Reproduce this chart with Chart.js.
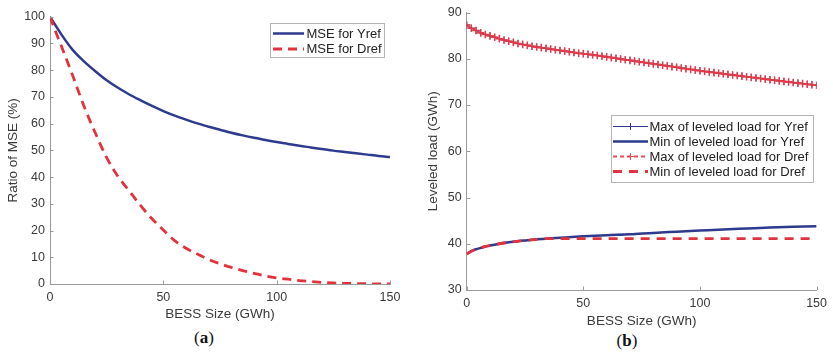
<!DOCTYPE html>
<html>
<head>
<meta charset="utf-8">
<script src="https://cdn.jsdelivr.net/npm/chart.js@4.4.1/dist/chart.umd.min.js"></script>
<style>
  html, body { margin: 0; padding: 0; background: #fff; width: 833px; height: 354px; overflow: hidden; }
  #wrapA { position: absolute; left: 0; top: 0; width: 420px; height: 322px; }
  #wrapB { position: absolute; left: 420px; top: 0; width: 413px; height: 329px; }
  .cap { position: absolute; font-family: 'Liberation Serif', 'DejaVu Serif', serif; font-size: 17px; color: #111; transform: translate(-50%, -50%); line-height: 1; }
</style>
</head>
<body>
<div id="wrapA"><canvas id="chartA" width="420" height="322"></canvas></div>
<div id="wrapB"><canvas id="chartB" width="413" height="329"></canvas></div>
<div class="cap" style="left:204px; top:337px;">(<b>a</b>)</div>
<div class="cap" style="left:627px; top:340px;">(<b>b</b>)</div>
<script>
// ---------- Panel (a) data ----------
const bessA = [0,5,10,15,20,25,30,35,40,45,50,55,60,65,70,75,80,85,90,95,100,105,110,115,120,125,130,135,140,145,150];
const mseYref = [100,93.4,87.6,83.3,79.6,76.2,73.4,70.9,68.7,66.6,64.7,63.0,61.5,60.1,58.8,57.7,56.6,55.6,54.7,53.9,53.1,52.4,51.7,51.1,50.5,49.9,49.4,48.9,48.4,47.9,47.5];
const bessDref = [0,2,5,10,15,20,25,30,35,40,45,50,55,60,65,70,75,80,85,90,95,100,105,110,115,120,125,130,135,140,145,150];
const mseDref = [100,95.5,89,78,66.5,56.5,47.3,40.2,34.8,29.3,24.4,20.2,16.2,13.4,11.2,9.2,7.6,6.2,5.0,4.0,3.0,2.3,1.8,1.3,0.9,0.6,0.4,0.25,0.15,0.1,0.05,0.0];
const ticksA_x = [0,50,100,150];

// ---------- Panel (b) data ----------
const bessMax = [0,2,4,6,8,10,12,14,16,18,20,22,24,26,28,30,32,34,36,38,40,42,44,46,48,50,52,54,56,58,60,62,64,66,68,70,72,74,76,78,80,82,84,86,88,90,92,94,96,98,100,102,104,106,108,110,112,114,116,118,120,122,124,126,128,130,132,134,136,138,140,142,144,146,148,150];
const maxLoadYref = [87.3,86.6,86.1,85.6,85.25,84.95,84.65,84.35,84.05,83.8,83.55,83.3,83.1,82.9,82.7,82.55,82.4,82.25,82.1,81.95,81.8,81.65,81.5,81.35,81.2,81.1,80.95,80.85,80.7,80.55,80.4,80.25,80.1,79.95,79.8,79.65,79.5,79.35,79.2,79.05,78.9,78.75,78.6,78.45,78.3,78.15,78.0,77.85,77.7,77.55,77.4,77.27,77.14,77.01,76.88,76.75,76.62,76.5,76.37,76.24,76.11,75.98,75.85,75.72,75.6,75.47,75.35,75.22,75.1,74.98,74.86,74.74,74.62,74.5,74.38,74.26];
const maxLoadDref = [87.3,86.6,86.1,85.6,85.25,84.95,84.65,84.35,84.05,83.8,83.55,83.3,83.1,82.9,82.7,82.55,82.4,82.25,82.1,81.95,81.8,81.65,81.5,81.35,81.2,81.1,80.95,80.85,80.7,80.55,80.4,80.25,80.1,79.95,79.8,79.65,79.5,79.35,79.2,79.05,78.9,78.75,78.6,78.45,78.3,78.15,78.0,77.85,77.7,77.55,77.4,77.27,77.14,77.01,76.88,76.75,76.62,76.5,76.37,76.24,76.11,75.98,75.85,75.72,75.6,75.47,75.35,75.22,75.1,74.98,74.86,74.74,74.62,74.5,74.38,74.26];
const bessMinY = [0,2,4,6,8,10,14,18,22,26,30,35,40,45,50,60,70,80,90,100,110,120,130,140,150];
const minLoadYref = [37.8,38.4,38.8,39.1,39.4,39.6,40.0,40.3,40.55,40.75,40.95,41.15,41.3,41.45,41.6,41.85,42.05,42.35,42.6,42.85,43.1,43.3,43.5,43.65,43.8];
const bessMinD = [0,2,4,6,8,10,14,18,22,26,30,34,40,50,60,70,80,90,100,110,120,130,140,150];
const minLoadDref = [37.8,38.4,38.8,39.1,39.4,39.6,40.0,40.3,40.55,40.75,40.95,41.1,41.1,41.1,41.1,41.1,41.1,41.1,41.1,41.1,41.1,41.1,41.1,41.1];
const ticksB_x = [0,50,100,150];

// ---------- Styles ----------
const FONT = "'Liberation Sans', Arial, Helvetica, sans-serif";
const BLUE = '#2d3a8e';
const RED = '#e4323c';
const RED_MARK = 'rgba(233,58,68,0.9)';
const AXIS = '#9a9a9a';
const TEXT = '#3a3a3a';

const pts = (xs, ys) => xs.map((x, i) => ({ x: x, y: ys[i] }));

// Boxed legend drawn inside the plot area (MATLAB style)
const boxLegend = {
  id: 'boxLegend',
  afterDraw(chart, args, o) {
    const ctx = chart.ctx;
    ctx.save();
    ctx.fillStyle = '#fff';
    ctx.fillRect(o.x, o.y, o.w, o.h);
    ctx.strokeStyle = '#b5b5b5';
    ctx.lineWidth = 1;
    ctx.strokeRect(o.x + 0.5, o.y + 0.5, o.w, o.h);
    const items = chart.data.datasets;
    o.rows.forEach((ry, k) => {
      const ds = items[o.items[k]];
      ctx.strokeStyle = ds.borderColor;
      ctx.lineWidth = ds.borderWidth;
      ctx.setLineDash(ds.borderDash || []);
      ctx.beginPath();
      ctx.moveTo(o.lx1, ry);
      ctx.lineTo(o.lx2, ry);
      ctx.stroke();
      ctx.setLineDash([]);
      if (ds.pointStyle === 'cross') {
        const cx = (o.lx1 + o.lx2) / 2, r = 3.5;
        ctx.strokeStyle = ds.pointBorderColor || ds.borderColor;
        ctx.lineWidth = 1;
        ctx.beginPath();
        ctx.moveTo(cx - r, ry); ctx.lineTo(cx + r, ry);
        ctx.moveTo(cx, ry - r); ctx.lineTo(cx, ry + r);
        ctx.stroke();
      }
      ctx.fillStyle = '#222';
      ctx.font = '13px ' + FONT;
      ctx.textBaseline = 'middle';
      ctx.textAlign = 'left';
      ctx.fillText(ds.label, o.tx, ry + 0.5);
    });
    ctx.restore();
  }
};

// MATLAB-like inward tick marks
const inTicks = {
  id: 'inTicks',
  afterDraw(chart) {
    const { ctx, chartArea, scales } = chart;
    ctx.save();
    ctx.strokeStyle = AXIS;
    ctx.lineWidth = 1;
    ctx.beginPath();
    scales.x.ticks.forEach((t, i) => {
      const p = Math.round(scales.x.getPixelForTick(i)) + 0.5;
      ctx.moveTo(p, chartArea.bottom);
      ctx.lineTo(p, chartArea.bottom - 3.5);
    });
    scales.y.ticks.forEach((t, i) => {
      const p = Math.round(scales.y.getPixelForTick(i)) + 0.5;
      ctx.moveTo(chartArea.left, p);
      ctx.lineTo(chartArea.left + 3.5, p);
    });
    ctx.stroke();
    ctx.restore();
  }
};

function axisX(ticksArr, h) {
  return {
    type: 'linear', min: 0, max: 150,
    afterBuildTicks: s => { s.ticks = ticksArr.map(v => ({ value: v })); },
    afterFit: s => { s.height = h; },
    grid: { display: false, drawTicks: false },
    border: { display: true, color: AXIS, width: 1 },
    ticks: { color: TEXT, font: { family: FONT, size: 12.5 }, padding: 6, maxRotation: 0 },
    title: { display: true, text: 'BESS Size (GWh)', color: TEXT, font: { family: FONT, size: 13.5 }, padding: 0 }
  };
}
function axisY(min, max, step, w, label) {
  return {
    type: 'linear', min: min, max: max,
    afterFit: s => { s.width = w; },
    grid: { display: false, drawTicks: false },
    border: { display: true, color: AXIS, width: 1 },
    ticks: { stepSize: step, color: TEXT, font: { family: FONT, size: 12.5 }, padding: 5 },
    title: { display: true, text: label, color: TEXT, font: { family: FONT, size: 13.5 }, padding: 0 }
  };
}

// ---------- Chart (a) ----------
new Chart(document.getElementById('chartA'), {
  type: 'line',
  data: {
    datasets: [
      { label: 'MSE for Yref', data: pts(bessA, mseYref), borderColor: BLUE, borderWidth: 2.5,
        pointRadius: 0, cubicInterpolationMode: 'monotone', order: 2 },
      { label: 'MSE for Dref', data: pts(bessDref, mseDref), borderColor: RED, borderWidth: 2.8,
        borderDash: [9, 6], pointRadius: 0, cubicInterpolationMode: 'monotone', order: 1 }
    ]
  },
  options: {
    responsive: false, animation: false, devicePixelRatio: 1,
    layout: { padding: { left: 5.6, right: 30, top: 16.7, bottom: 0 } },
    plugins: {
      legend: { display: false }, tooltip: { enabled: false },
      boxLegend: { x: 270, y: 23, w: 114, h: 34, rows: [33.5, 49], items: [0, 1], lx1: 273, lx2: 304, tx: 306.5 }
    },
    scales: { x: axisX(ticksA_x, 38), y: axisY(0, 100, 10, 44.4, 'Ratio of MSE (%)') }
  },
  plugins: [inTicks, boxLegend]
});

// ---------- Chart (b) ----------
new Chart(document.getElementById('chartB'), {
  type: 'line',
  data: {
    datasets: [
      { label: 'Max of leveled load for Yref', data: pts(bessMax, maxLoadYref), borderColor: BLUE, borderWidth: 1,
        pointStyle: 'cross', pointRadius: 3.5, pointBorderWidth: 1, pointBorderColor: BLUE,
        cubicInterpolationMode: 'monotone', order: 4 },
      { label: 'Min of leveled load for Yref', data: pts(bessMinY, minLoadYref), borderColor: BLUE, borderWidth: 2.5,
        pointRadius: 0, cubicInterpolationMode: 'monotone', order: 3 },
      { label: 'Max of leveled load for Dref', data: pts(bessMax, maxLoadDref), borderColor: RED_MARK, borderWidth: 2,
        borderDash: [4, 3], pointStyle: 'cross', pointRadius: 3.8, pointBorderWidth: 1.5, pointBorderColor: RED_MARK,
        cubicInterpolationMode: 'monotone', order: 2 },
      { label: 'Min of leveled load for Dref', data: pts(bessMinD, minLoadDref), borderColor: RED, borderWidth: 2.8,
        borderDash: [9, 7], pointRadius: 0, cubicInterpolationMode: 'monotone', order: 1 }
    ]
  },
  options: {
    responsive: false, animation: false, devicePixelRatio: 1,
    layout: { padding: { left: 5.6, right: 13, top: 10, bottom: 0 } },
    plugins: {
      legend: { display: false }, tooltip: { enabled: false },
      boxLegend: { x: 191, y: 115, w: 202, h: 67, rows: [126.5, 141.5, 156.5, 171.5], items: [0, 1, 2, 3], lx1: 193, lx2: 228, tx: 229.5 }
    },
    scales: { x: axisX(ticksB_x, 39), y: axisY(30, 90, 10, 41.1, 'Leveled load (GWh)') }
  },
  plugins: [inTicks, boxLegend]
});
</script>
</body>
</html>
